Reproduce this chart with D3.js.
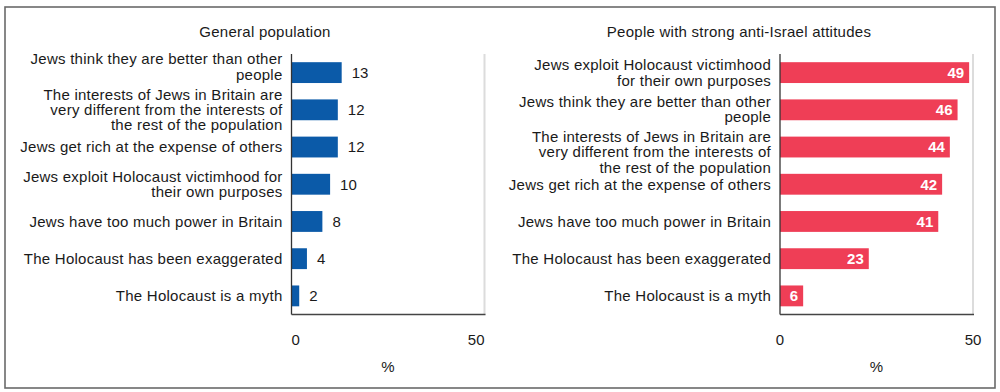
<!DOCTYPE html>
<html>
<head>
<meta charset="utf-8">
<script src="https://cdn.jsdelivr.net/npm/d3@7"></script>
<style>
  html, body { margin: 0; padding: 0; background: #fff; }
  svg { display: block; font-family: "Liberation Sans", Arial, sans-serif; }
</style>
</head>
<body>
<svg id="chart" width="1000" height="392"></svg>
<script>
// ---- Data ----
const leftTitle = "General population";
const leftCategories = [
  ["Jews think they are better than other", "people"],
  ["The interests of Jews in Britain are", "very different from the interests of", "the rest of the population"],
  ["Jews get rich at the expense of others"],
  ["Jews exploit Holocaust victimhood for", "their own purposes"],
  ["Jews have too much power in Britain"],
  ["The Holocaust has been exaggerated"],
  ["The Holocaust is a myth"]
];
const leftValues = [13, 12, 12, 10, 8, 4, 2];

const rightTitle = "People with strong anti-Israel attitudes";
const rightCategories = [
  ["Jews exploit Holocaust victimhood", "for their own purposes"],
  ["Jews think they are better than other", "people"],
  ["The interests of Jews in Britain are", "very different from the interests of", "the rest of the population"],
  ["Jews get rich at the expense of others"],
  ["Jews have too much power in Britain"],
  ["The Holocaust has been exaggerated"],
  ["The Holocaust is a myth"]
];
const rightValues = [49, 46, 44, 42, 41, 23, 6];

const xTicks = [0, 50];
const axisTitle = "%";

// ---- Drawing ----
const svg = d3.select("#chart");

// outer frame
svg.append("rect")
  .attr("x", 5).attr("y", 7).attr("width", 990).attr("height", 381)
  .attr("fill", "none").attr("stroke", "#6a6a6a").attr("stroke-width", 1.6);

function panel(opts) {
  const { title, cats, vals, x0, x1, titleX, color, inside, tickAnchors, labelShift } = opts;
  const top = 54, bottom = 314.5;
  const keys = cats.map((c, i) => i);
  const x = d3.scaleLinear().domain([0, 50]).range([x0, x1]);
  const y = d3.scaleBand().domain(keys).range([top, bottom])
    .paddingInner(0.44).paddingOuter(0.22);

  const g = svg.append("g");

  g.append("text")
    .attr("x", titleX).attr("y", 37)
    .attr("text-anchor", "middle")
    .attr("font-size", 15).attr("letter-spacing", 0.25)
    .attr("fill", "#1a1a1a")
    .text(title);

  // right light boundary
  g.append("line")
    .attr("x1", x(50)).attr("x2", x(50)).attr("y1", top).attr("y2", bottom)
    .attr("stroke", "#dcdcdc").attr("stroke-width", 2);

  // bars
  g.selectAll("rect.bar").data(vals).join("rect")
    .attr("class", "bar")
    .attr("x", x(0))
    .attr("y", (d, i) => y(i))
    .attr("width", d => x(d) - x(0))
    .attr("height", y.bandwidth())
    .attr("fill", color);

  // value labels
  g.selectAll("text.val").data(vals).join("text")
    .attr("class", "val")
    .attr("x", d => inside ? x(d) - 5 : x(d) + 10)
    .attr("y", (d, i) => y(i) + y.bandwidth() / 2)
    .attr("dy", "0.36em")
    .attr("text-anchor", inside ? "end" : "start")
    .attr("font-size", 15)
    .attr("font-weight", inside ? "bold" : "normal")
    .attr("fill", inside ? "#fff" : "#1a1a1a")
    .text(d => d);

  // category labels
  const lh = 15.2;
  cats.forEach((lines, i) => {
    const cy = y(i) + y.bandwidth() / 2 + (labelShift[i] || 0);
    const t = g.append("text")
      .attr("text-anchor", "end")
      .attr("font-size", 15).attr("letter-spacing", 0.25)
      .attr("fill", "#1a1a1a");
    lines.forEach((ln, j) => {
      t.append("tspan")
        .attr("x", x(0) - 9)
        .attr("y", cy + (j - (lines.length - 1) / 2) * lh)
        .attr("dy", "0.36em")
        .text(ln);
    });
  });

  // axes lines
  g.append("line")
    .attr("x1", x(0)).attr("x2", x(0)).attr("y1", top).attr("y2", bottom)
    .attr("stroke", "#333").attr("stroke-width", 1.3);
  g.append("line")
    .attr("x1", x(0)).attr("x2", x(50) + 1).attr("y1", bottom).attr("y2", bottom)
    .attr("stroke", "#444").attr("stroke-width", 1.3);

  // tick labels
  g.selectAll("text.tick").data(xTicks).join("text")
    .attr("class", "tick")
    .attr("x", d => x(d))
    .attr("y", 340)
    .attr("dy", "0.36em")
    .attr("text-anchor", (d, i) => tickAnchors[i])
    .attr("font-size", 15)
    .attr("fill", "#1a1a1a")
    .text(d => d);

  g.append("text")
    .attr("x", (x0 + x1) / 2).attr("y", 366.5)
    .attr("dy", "0.36em")
    .attr("text-anchor", "middle")
    .attr("font-size", 15)
    .attr("fill", "#1a1a1a")
    .text(axisTitle);
}

panel({
  title: leftTitle, cats: leftCategories, vals: leftValues,
  x0: 291.5, x1: 484.5, titleX: 265, color: "#0b5aa8", inside: false,
  tickAnchors: ["start", "end"], labelShift: [-6, 0, 0, 0, 0, 0, 0]
});
panel({
  title: rightTitle, cats: rightCategories, vals: rightValues,
  x0: 780, x1: 973, titleX: 739, color: "#ef3e56", inside: true,
  tickAnchors: ["middle", "middle"], labelShift: [0, -1, 5, 0, 0, 0, 0]
});
</script>
</body>
</html>
